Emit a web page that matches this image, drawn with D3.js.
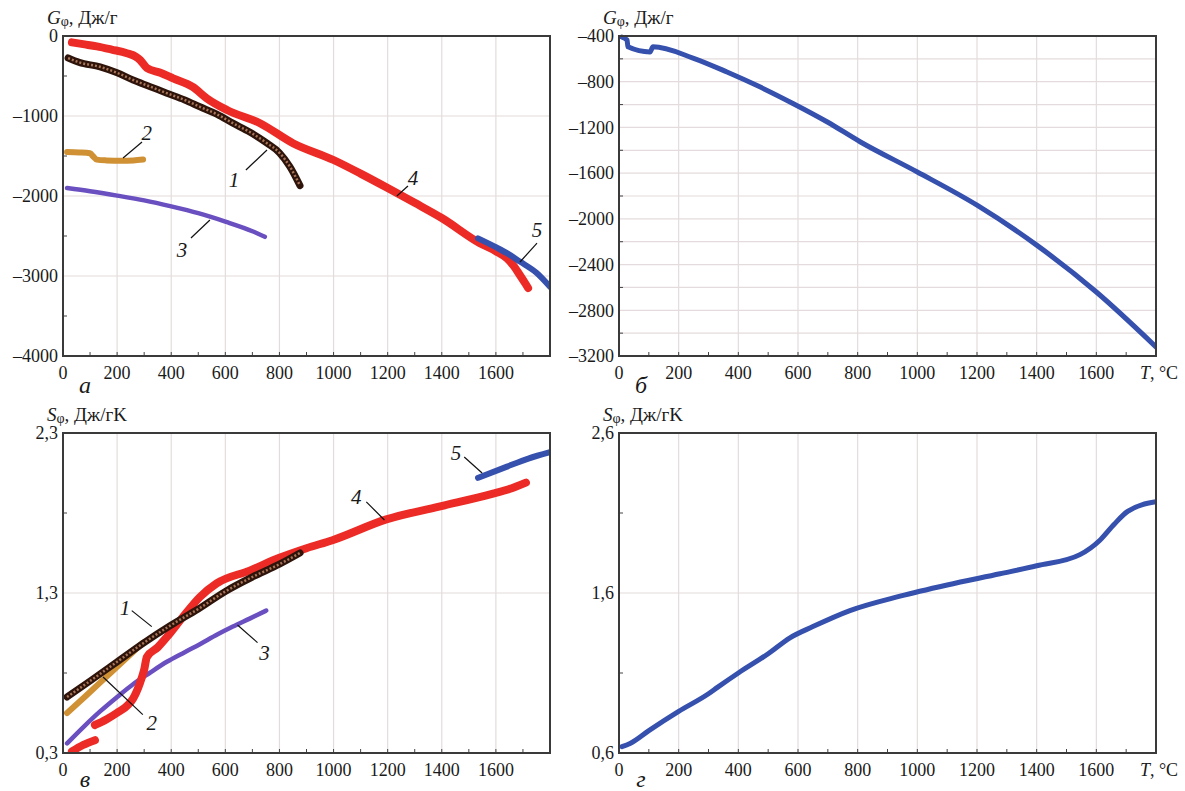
<!DOCTYPE html>
<html>
<head>
<meta charset="utf-8">
<script src="https://cdn.jsdelivr.net/npm/d3@7"></script>
<style>
  body { margin: 0; background: #fff; }
  svg text { font-family: "Liberation Serif", "Times New Roman", serif; fill: #1a1a1a; }
</style>
</head>
<body>
<svg width="1185" height="791"></svg>
<script>
// ---- data ----
const tempTicks = [0, 200, 400, 600, 800, 1000, 1200, 1400, 1600];
const tempMinor = d3.range(100, 1800, 200);

const gTicksA = [0, -1000, -2000, -3000, -4000];
const gMinorA = [-500, -1500, -2500, -3500];
const gTicksB = [-400, -800, -1200, -1600, -2000, -2400, -2800, -3200];
const gGridB = d3.range(-600, -3200, -400);
const sTicksC = [2.3, 1.3, 0.3];
const sMinorC = [1.8, 0.8];
const sTicksD = [2.6, 1.6, 0.6];
const sMinorD = [2.1, 1.1];

// panel а: Gibbs energy, J/g
const gCurve1 = [[19,-275],[60,-330],[137,-385],[200,-460],[259,-550],[320,-630],[384,-715],[450,-800],
  [506,-885],[570,-980],[628,-1090],[690,-1200],[754,-1340],[800,-1460],[839,-1635],[876,-1870]];
const gCurve2 = [[15,-1450],[60,-1455],[100,-1465],[110,-1500],[125,-1545],[160,-1555],[220,-1560],
  [260,-1555],[296,-1545]];
const gCurve3 = [[15,-1900],[100,-1940],[200,-1995],[300,-2055],[400,-2130],[500,-2215],[600,-2320],
  [700,-2440],[746,-2510]];
const gCurve4 = [[33,-80],[80,-105],[125,-130],[180,-170],[236,-215],[270,-260],[285,-300],[310,-400],
  [360,-460],[407,-530],[481,-640],[532,-780],[606,-925],[728,-1090],[850,-1340],[1000,-1550],
  [1100,-1720],[1200,-1900],[1300,-2085],[1400,-2275],[1541,-2590],[1600,-2690],[1641,-2780],
  [1665,-2870],[1689,-2990],[1710,-3100],[1719,-3150]];
const gCurve5 = [[1534,-2530],[1600,-2640],[1641,-2715],[1689,-2820],[1750,-2960],[1800,-3135]];

// panel б
const gBlue = [[10,-410],[27,-435],[30,-495],[104,-540],[114,-495],[248,-593],[362,-715],[472,-845],
  [583,-990],[697,-1150],[808,-1325],[1000,-1590],[1200,-1880],[1400,-2230],[1600,-2640],[1800,-3120]];

// panel в: entropy, J/(g K)
const sCurve1 = [[15,0.65],[100,0.75],[200,0.87],[300,0.99],[400,1.1],[500,1.2],[600,1.31],[700,1.4],
  [800,1.48],[876,1.55]];
const sCurve2 = [[15,0.55],[80,0.65],[137,0.74],[220,0.87],[296,0.99]];
const sCurve3 = [[15,0.36],[80,0.47],[137,0.56],[200,0.65],[259,0.73],[320,0.8],[384,0.87],[450,0.93],
  [506,0.98],[570,1.04],[628,1.09],[690,1.14],[751,1.19]];
const sCurve4 = [[33,0.31],[74,0.35],[118,0.38],null,[118,0.475],[160,0.51],[199,0.55],[240,0.6],
  [259,0.64],[285,0.74],[300,0.82],[310,0.9],[350,0.96],[384,1.025],[443,1.15],[506,1.275],[568,1.36],
  [690,1.44],[800,1.52],[900,1.58],[996,1.63],[1195,1.76],[1390,1.84],[1586,1.92],[1650,1.95],[1711,1.99]];
const sCurve5 = [[1534,2.02],[1641,2.09],[1720,2.14],[1800,2.18]];

// panel г
const sBlue = [[10,0.64],[37,0.66],[100,0.74],[200,0.86],[300,0.97],[330,1.01],[400,1.1],[500,1.22],
  [573,1.32],[650,1.39],[774,1.49],[942,1.58],[1100,1.65],[1277,1.72],[1400,1.77],[1545,1.84],
  [1612,1.93],[1660,2.03],[1705,2.11],[1800,2.17]];

// curve labels: [text, labelT, labelV, fromT, fromV, toT, toV]
const labelsA = [['2',310,-1210,292,-1325,222,-1525],['1',632,-1800,676,-1675,754,-1425],
  ['3',440,-2675,473,-2525,543,-2300],['4',1294,-1775,1275,-1875,1234,-2000],
  ['5',1752,-2425,1752,-2590,1689,-2825]];
const labelsC = [['1',229,1.21,254,1.19,328,1.09],['2',328,0.49,295,0.54,148,0.775],
  ['3',745,0.93,719,0.99,645,1.1],['4',1084,1.9,1121,1.87,1188,1.756],
  ['5',1453,2.18,1483,2.15,1549,2.05]];

// ---- styles ----
const RED = '#ec2b26', BROWN = '#2e140a', GOLD = '#cf9134', PURPLE = '#6a4fc0', BLUE = '#3550ad';

const svg = d3.select('svg');

function fmtComma(v) { return String(v).replace('.', ','); }
function fmtMinus(v) { return v < 0 ? '\u2013' + Math.abs(v) : String(v); }

function drawPanel(cfg) {
  const g = svg.append('g');
  const x = d3.scaleLinear().domain([0, 1800]).range([cfg.left, cfg.right]);
  const y = d3.scaleLinear().domain(cfg.yDomain).range([cfg.top, cfg.bottom]);

  // grid
  g.append('g').selectAll('line').data(tempTicks.slice(1)).join('line')
    .attr('x1', d => x(d)).attr('x2', d => x(d))
    .attr('y1', cfg.top).attr('y2', cfg.bottom)
    .attr('stroke', '#e4dcdc').attr('stroke-width', 1.2);
  g.append('g').selectAll('line').data(cfg.yGrid).join('line')
    .attr('x1', cfg.left).attr('x2', cfg.right)
    .attr('y1', d => y(d)).attr('y2', d => y(d))
    .attr('stroke', '#e4dcdc').attr('stroke-width', 1.2);

  // inner ticks
  g.append('g').selectAll('line').data(tempTicks.concat(tempMinor)).join('line')
    .attr('x1', d => x(d)).attr('x2', d => x(d))
    .attr('y1', cfg.bottom).attr('y2', cfg.bottom - 4)
    .attr('stroke', '#444').attr('stroke-width', 1);
  g.append('g').selectAll('line').data(cfg.yMinor).join('line')
    .attr('x1', cfg.left).attr('x2', cfg.left + 4)
    .attr('y1', d => y(d)).attr('y2', d => y(d))
    .attr('stroke', '#444').attr('stroke-width', 1);

  // series
  const line = d3.line().defined(d => d !== null).curve(d3.curveMonotoneX)
    .x(d => x(d[0])).y(d => y(d[1]));
  const clip = 'clip' + cfg.id;
  g.append('clipPath').attr('id', clip).append('rect')
    .attr('x', cfg.left).attr('y', cfg.top - 6)
    .attr('width', cfg.right - cfg.left).attr('height', cfg.bottom - cfg.top + 6);
  const sg = g.append('g').attr('clip-path', `url(#${clip})`);
  cfg.series.forEach(s => {
    sg.append('path').datum(s.data).attr('d', line)
      .attr('fill', 'none').attr('stroke', s.color).attr('stroke-width', s.width)
      .attr('stroke-linejoin', 'round').attr('stroke-linecap', 'round');
    if (s.texture) {
      sg.append('path').datum(s.data).attr('d', line)
        .attr('fill', 'none').attr('stroke', s.texture).attr('stroke-width', 2.5)
        .attr('stroke-dasharray', '2,2').attr('stroke-linejoin', 'round');
    }
  });

  // frame
  g.append('rect').attr('x', cfg.left).attr('y', cfg.top)
    .attr('width', cfg.right - cfg.left).attr('height', cfg.bottom - cfg.top)
    .attr('fill', 'none').attr('stroke', '#3a3a3a').attr('stroke-width', 2);

  // tick labels
  g.append('g').selectAll('text').data(tempTicks).join('text')
    .attr('x', d => x(d)).attr('y', cfg.bottom + 23)
    .attr('text-anchor', 'middle').attr('font-size', 18).text(d => d);
  g.append('g').selectAll('text').data(cfg.yTicks).join('text')
    .attr('x', cfg.left - 5).attr('y', d => y(d))
    .attr('dy', '0.35em').attr('text-anchor', 'end').attr('font-size', 18)
    .text(cfg.yFormat);

  // axis title
  const t = g.append('text').attr('x', cfg.left - 16).attr('y', cfg.top - 12).attr('font-size', 19);
  t.append('tspan').attr('font-style', 'italic').text(cfg.yTitle[0]);
  t.append('tspan').attr('font-size', 14).attr('dy', 2).text('\u03c6');
  t.append('tspan').attr('dy', -2).text(cfg.yTitle[1]);

  if (cfg.tLabel) {
    const tl = g.append('text').attr('x', cfg.right + 3).attr('y', cfg.bottom + 23)
      .attr('text-anchor', 'middle').attr('font-size', 18);
    tl.append('tspan').attr('font-style', 'italic').text('T');
    tl.append('tspan').text(', \u00b0C');
  }

  // panel letter
  g.append('text').attr('x', cfg.left + 22).attr('y', cfg.letterY)
    .attr('text-anchor', 'middle').attr('font-size', 24).attr('font-style', 'italic')
    .text(cfg.letter);

  // curve labels
  (cfg.labels || []).forEach(l => {
    g.append('line').attr('x1', x(l[3])).attr('y1', y(l[4])).attr('x2', x(l[5])).attr('y2', y(l[6]))
      .attr('stroke', '#111').attr('stroke-width', 1.2);
    g.append('text').attr('x', x(l[1])).attr('y', y(l[2])).attr('dy', '0.35em')
      .attr('text-anchor', 'middle').attr('font-size', 21).attr('font-style', 'italic').text(l[0]);
  });
}

drawPanel({
  id: 'a', left: 63, right: 550, top: 36, bottom: 356, yDomain: [0, -4000], letterY: 393,
  yTicks: gTicksA, yGrid: gTicksA.slice(1, -1), yMinor: gMinorA, yFormat: fmtMinus,
  yTitle: ['G', ', \u0414\u0436/\u0433'], letter: '\u0430', labels: labelsA,
  series: [
    { data: gCurve3, color: PURPLE, width: 4.5 },
    { data: gCurve2, color: GOLD, width: 6 },
    { data: gCurve4, color: RED, width: 8 },
    { data: gCurve1, color: BROWN, width: 7, texture: '#a9765a' },
    { data: gCurve5, color: BLUE, width: 6 }
  ]
});

drawPanel({
  id: 'b', left: 619, right: 1156, top: 36, bottom: 356, yDomain: [-400, -3200], letterY: 393,
  yTicks: gTicksB, yGrid: gTicksB.slice(1, -1).concat(gGridB), yMinor: gGridB, yFormat: fmtMinus,
  yTitle: ['G', ', \u0414\u0436/\u0433'], letter: '\u0431', tLabel: true,
  series: [{ data: gBlue, color: BLUE, width: 5 }]
});

drawPanel({
  id: 'c', left: 63, right: 550, top: 433, bottom: 753, yDomain: [2.3, 0.3], letterY: 787,
  yTicks: sTicksC, yGrid: [1.3], yMinor: sMinorC, yFormat: fmtComma,
  yTitle: ['S', ', \u0414\u0436/\u0433K'], letter: '\u0432', labels: labelsC,
  series: [
    { data: sCurve3, color: PURPLE, width: 4.5 },
    { data: sCurve2, color: GOLD, width: 6 },
    { data: sCurve4, color: RED, width: 8 },
    { data: sCurve1, color: BROWN, width: 7, texture: '#a9765a' },
    { data: sCurve5, color: BLUE, width: 6 }
  ]
});

drawPanel({
  id: 'd', left: 619, right: 1156, top: 433, bottom: 753, yDomain: [2.6, 0.6], letterY: 787,
  yTicks: sTicksD, yGrid: [1.6], yMinor: sMinorD, yFormat: fmtComma,
  yTitle: ['S', ', \u0414\u0436/\u0433K'], letter: '\u0433', tLabel: true,
  series: [{ data: sBlue, color: BLUE, width: 5 }]
});
</script>
</body>
</html>
